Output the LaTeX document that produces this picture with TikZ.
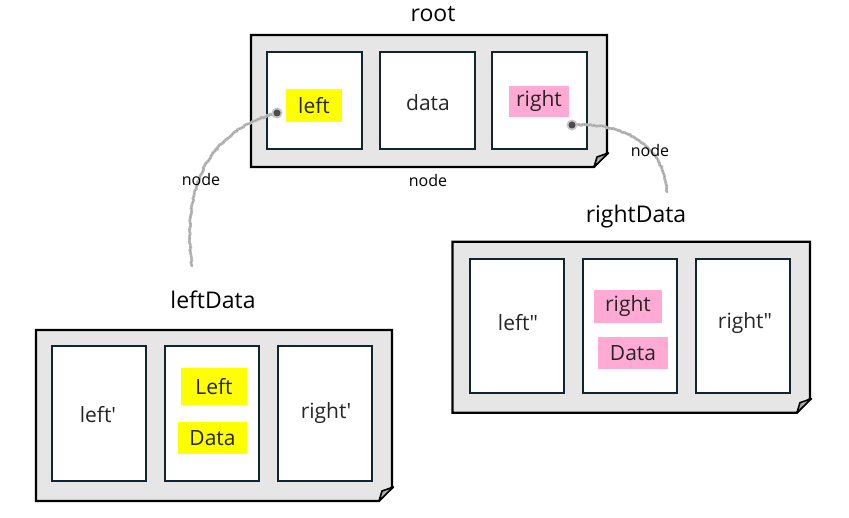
\documentclass[tikz,border=0pt]{standalone}
\usepackage{fontspec}
\setmainfont{Open Sans}
\usetikzlibrary{decorations.pathmorphing}
\definecolor{hlyellow}{RGB}{255,255,0}
\definecolor{hlpink}{RGB}{255,170,212}
\definecolor{boxgrey}{RGB}{230,230,230}
\definecolor{cellline}{RGB}{15,38,50}
\definecolor{foldgrey}{RGB}{170,170,170}
\tikzset{
  holder/.style={draw=none, inner sep=0pt, outer sep=0pt},
  outerbox/.style={draw=black, line width=2.2pt, fill=boxgrey, line join=miter},
  foldtri/.style={draw=black, line width=1.6pt, fill=foldgrey, line join=round},
  cell/.style={draw=cellline, line width=2pt, fill=white, inner sep=0pt},
  lbl/.style={font=\fontsize{21}{24}\selectfont, text=black!85, inner sep=0pt},
  ttl/.style={font=\fontsize{23}{26}\selectfont, text=black, inner sep=0pt},
  small/.style={font=\fontsize{16}{18}\selectfont, text=black, inner sep=0pt},
  hly/.style={lbl, fill=hlyellow},
  hlp/.style={lbl, fill=hlpink},
  pencil/.style={draw=gray!55, line width=2.8pt, line cap=round,
    decorate, decoration={random steps, segment length=2pt, amplitude=0.7pt}},
  pencilcore/.style={draw=gray!80, line width=0.8pt, dash pattern=on 1.5pt off 1.5pt},
  pencilhalo/.style={fill=gray!45},
  pencildot/.style={fill=black!70}
}
\begin{document}
\begin{tikzpicture}[x=1pt, y=-1pt]
\useasboundingbox (0,0) rectangle (849,518);

% ---------- containers ----------
\node[holder, minimum width=356pt, minimum height=132pt] (root) at (429,101) {};
\node[holder, minimum width=356pt, minimum height=171pt] (ldata) at (214,415.5) {};
\node[holder, minimum width=357.5pt, minimum height=171pt] (rdata) at (631.2,327.2) {};

\foreach \b in {root, ldata, rdata}{
  \draw[outerbox] (\b.north west) -- (\b.north east) -- ([yshift=14pt]\b.south east)
     -- ([xshift=-13pt]\b.south east) -- (\b.south west) -- cycle;
  \draw[foldtri] ([xshift=-13pt]\b.south east) -- ([xshift=-10pt,yshift=10pt]\b.south east)
     -- ([xshift=1.5pt,yshift=14pt]\b.south east) -- cycle;
}

% ---------- titles ----------
\node[ttl] (troot) at (433,14) {root};
\node[ttl] (tldata) at (213,300) {leftData};
\node[ttl] (trdata) at (636,217) {rightData};

% ---------- root cells ----------
\node[cell, minimum width=95pt, minimum height=97pt] (r1) at (314.3,100.2) {};
\node[cell, minimum width=95pt, minimum height=97pt] (r2) at (427.5,100.2) {};
\node[cell, minimum width=95pt, minimum height=97pt] (r3) at (539.7,100.2) {};
\node[hly, minimum width=56pt, minimum height=33pt] (rleft) at (314,105.5) {left};
\node[lbl] (rdatal) at (428,103) {data};
\node[hlp, minimum width=60pt, minimum height=31pt] (rright) at (539,101.5) {right};

% ---------- leftData cells ----------
\node[cell, minimum width=94.6pt, minimum height=135pt] (l1) at (99,413.3) {};
\node[cell, minimum width=94.6pt, minimum height=135pt] (l2) at (211.8,413.3) {};
\node[cell, minimum width=94.6pt, minimum height=135pt] (l3) at (325,413.3) {};
\node[lbl] (lleft) at (98,415) {left\textquotesingle};
\node[hly, minimum width=66pt, minimum height=37pt] (lL) at (214,387) {Left};
\node[hly, minimum width=69pt, minimum height=32pt] (lD) at (212.5,438) {Data};
\node[lbl] (lright) at (326,413) {right\textquotesingle};

% ---------- rightData cells ----------
\node[cell, minimum width=94.6pt, minimum height=133.7pt] (q1) at (517,325.8) {};
\node[cell, minimum width=94.6pt, minimum height=133.7pt] (q2) at (630,325.8) {};
\node[cell, minimum width=94.6pt, minimum height=133.7pt] (q3) at (742.8,325.8) {};
\node[lbl] (qleft) at (518,323) {left\textquotedbl};
\node[hlp, minimum width=68pt, minimum height=33pt] (qR) at (628,306.5) {right};
\node[hlp, minimum width=70pt, minimum height=32pt] (qD) at (633,353) {Data};
\node[lbl] (qright) at (745,323) {right\textquotedbl};

% ---------- connectors ----------
\coordinate (ls) at (192,266);
\coordinate (le) at (277,113);
\coordinate (rs) at (667,192);
\coordinate (re) at (572,125);
\draw[pencil] (ls) .. controls (184,205) and (195,135) .. (le);
\draw[pencilcore] (ls) .. controls (184,205) and (195,135) .. (le);
\draw[pencil] (rs) .. controls (665,150) and (630,122) .. (re);
\draw[pencilcore] (rs) .. controls (665,150) and (630,122) .. (re);
\fill[pencilhalo] (le) circle (5.5pt);
\fill[pencildot] (le) circle (3.5pt);
\fill[pencilhalo] (re) circle (5.5pt);
\fill[pencildot] (re) circle (3.5pt);

% ---------- node labels ----------
\node[small] (nroot) at (428,181) {node};
\node[small] (nleft) at (201,180) {node};
\node[small] (nright) at (650,151) {node};
\end{tikzpicture}
\end{document}
